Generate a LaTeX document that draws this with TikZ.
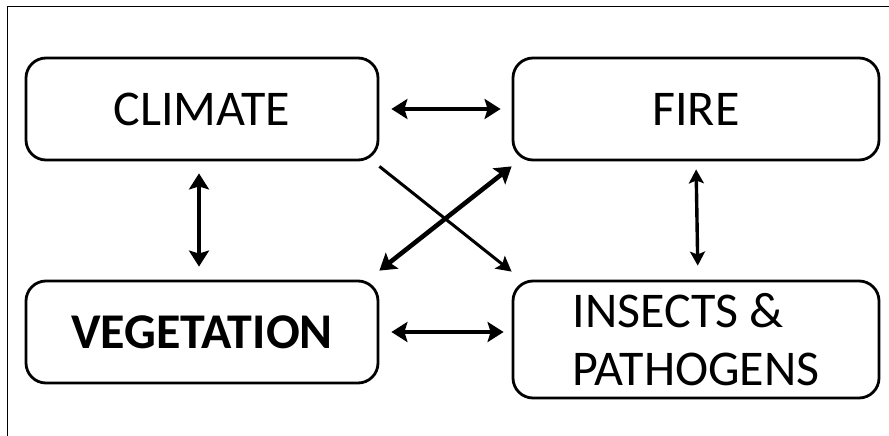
\documentclass[tikz,border=0pt]{standalone}
\usepackage{fontspec}
\setmainfont{Carlito}
\usetikzlibrary{positioning, arrows.meta}

\begin{document}
\begin{tikzpicture}[
    x=1pt, y=-1pt,
    every node/.style={font=\fontsize{50}{58}\selectfont},
    factor/.style={draw=black, line width=2.8pt, rounded corners=20pt,
                   minimum width=352pt, minimum height=102pt, inner sep=0pt},
    thicklink/.style={{Stealth[length=16pt, width=20pt, inset=3pt]}-{Stealth[length=16pt, width=20pt, inset=3pt]},
                      line width=4.6pt},
    medlink/.style={{Stealth[length=14pt, width=15pt, inset=3pt]}-{Stealth[length=14pt, width=15pt, inset=3pt]},
                    line width=3.4pt},
    thinlink/.style={-{Stealth[length=15pt, width=16pt, inset=3pt]}, line width=3pt},
    frame/.style={draw=black, line width=1pt},
]
\useasboundingbox (0,0) rectangle (889,436);

% Frame
\draw[frame] (889,7) -- (7,7) -- (7,436);

% Nodes
\node[factor] (climate) at (202,109) {CLIMATE};
\node[factor, minimum width=366pt] (fire) at (696,109) {FIRE};
\node[factor, font=\fontsize{50}{58}\selectfont\bfseries] (veg) at (202,332) {VEGETATION};
\node[factor, minimum width=366pt, minimum height=117pt, align=left] (insects) at (696,339.5)
    {INSECTS \&\\PATHOGENS};

% Edges
\draw[thicklink, shorten <=12pt, shorten >=11pt] (climate.east) -- (fire.west);
\draw[thicklink, shorten <=12pt, shorten >=8pt] (veg.east) -- (veg.east -| insects.west);
\draw[thicklink, shorten <=12pt, shorten >=13pt] ([xshift=-3pt]climate.south) -- ([xshift=-3pt]veg.north);
\draw[medlink, shorten <=8pt, shorten >=14pt] (fire.south) -- ([xshift=2pt]insects.north);
\draw[thinlink] ([yshift=-5pt]climate.south east) -- ([yshift=8pt]insects.north west);
\draw[thicklink] ([yshift=9pt]veg.north east) -- ([yshift=-5pt]fire.south west);

\end{tikzpicture}
\end{document}
